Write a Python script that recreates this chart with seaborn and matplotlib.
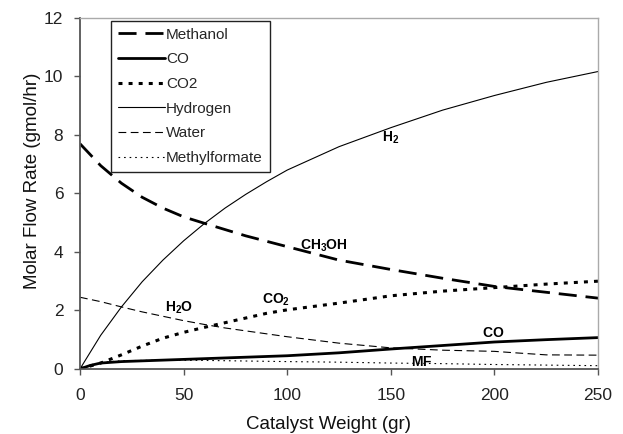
import matplotlib
matplotlib.use("Agg")
import matplotlib.pyplot as plt
import seaborn as sns
import pandas as pd

sns.set_theme(style="white")
plt.rcParams["font.family"] = ["Liberation Sans", "DejaVu Sans"]
plt.rcParams["mathtext.fontset"] = "custom"
plt.rcParams["mathtext.rm"] = "Liberation Sans"
plt.rcParams["mathtext.bf"] = "Liberation Sans:bold"

# Molar flow rates along the catalyst bed
methanol_w = [0, 10, 20, 30, 40, 50, 60, 80, 100, 125, 150, 175, 200, 225, 250]
methanol = [7.7, 6.95, 6.35, 5.87, 5.5, 5.2, 4.98, 4.55, 4.18, 3.72, 3.4, 3.1, 2.82, 2.62, 2.42]

co_w = [0, 5, 10, 20, 40, 60, 80, 100, 125, 150, 175, 200, 225, 250]
co = [0, 0.12, 0.2, 0.25, 0.3, 0.35, 0.4, 0.45, 0.55, 0.68, 0.8, 0.92, 1.0, 1.07]

co2_w = [0, 10, 20, 30, 40, 50, 60, 70, 80, 90, 100, 125, 150, 175, 200, 225, 250]
co2 = [0, 0.2, 0.48, 0.78, 1.05, 1.25, 1.42, 1.58, 1.74, 1.9, 2.02, 2.25, 2.5, 2.66, 2.78, 2.9, 3.0]

h2_w = [0, 10, 20, 30, 40, 50, 60, 70, 80, 90, 100, 125, 150, 175, 200, 225, 250]
h2 = [0, 1.15, 2.12, 2.98, 3.72, 4.38, 4.97, 5.5, 5.97, 6.4, 6.8, 7.6, 8.25, 8.85, 9.35, 9.8, 10.17]

water_w = [0, 10, 20, 30, 40, 50, 60, 70, 80, 100, 125, 150, 175, 200, 210, 225, 250]
water = [2.45, 2.3, 2.12, 1.95, 1.8, 1.65, 1.52, 1.4, 1.3, 1.1, 0.88, 0.72, 0.64, 0.6, 0.55, 0.48, 0.47]

mf_w = [0, 5, 10, 20, 40, 60, 80, 100, 125, 150, 175, 200, 225, 250]
mf = [0, 0.12, 0.22, 0.28, 0.3, 0.29, 0.27, 0.25, 0.23, 0.2, 0.18, 0.15, 0.13, 0.11]

series = [
    ("Methanol", methanol_w, methanol, 2.0, (0, (6.5, 3.2))),
    ("CO", co_w, co, 2.0, "-"),
    ("CO2", co2_w, co2, 2.2, (0, (1.3, 2.0))),
    ("Hydrogen", h2_w, h2, 0.8, "-"),
    ("Water", water_w, water, 0.8, (0, (7, 4))),
    ("Methylformate", mf_w, mf, 0.8, (0, (1.5, 3.5))),
]

# In-plot species labels
species_labels = [
    (r"$\mathbf{H_2}$", 149.7, 7.9),
    (r"$\mathbf{CH_3OH}$", 117.7, 4.2),
    (r"$\mathbf{CO_2}$", 94.5, 2.36),
    (r"$\mathbf{H_2O}$", 47.7, 2.08),
    (r"$\mathbf{CO}$", 199.6, 1.23),
    (r"$\mathbf{MF}$", 164.7, 0.24),
]

fig = plt.figure(figsize=(6.23, 4.34), dpi=100)
ax = fig.add_axes([0.1284, 0.150, 0.8316, 0.8085])

for name, w, v, lw, ls in series:
    df = pd.DataFrame({"w": w, "v": v})
    sns.lineplot(data=df, x="w", y="v", ax=ax, color="black", linewidth=lw,
                 linestyle=ls, label=name)

for txt, x, y in species_labels:
    ax.text(x, y, txt, ha="center", va="center", fontsize=10, color="black")

ax.set_xlim(0, 250)
ax.set_ylim(0, 12)
ax.set_xticks([0, 50, 100, 150, 200, 250])
ax.set_yticks([0, 2, 4, 6, 8, 10, 12])
ax.set_xlabel("Catalyst Weight (gr)", fontsize=13.5, color="#111111")
ax.set_ylabel("Molar Flow Rate (gmol/hr)", fontsize=13.5, color="#111111")
ax.xaxis.set_label_coords(0.48, -0.135)
ax.yaxis.set_label_coords(-0.075, 0.535)
ax.tick_params(axis="both", direction="out", length=4, width=1, colors="#555555",
               labelsize=12.5, labelcolor="#222222", bottom=True, left=True)
ax.tick_params(axis="x", pad=10)
ax.tick_params(axis="y", pad=8)

for side in ("left", "bottom"):
    ax.spines[side].set_color("#555555")
    ax.spines[side].set_linewidth(1.3)
for side in ("top", "right"):
    ax.spines[side].set_color("#aaaaaa")
    ax.spines[side].set_linewidth(1.0)

leg = ax.legend(loc="upper left", bbox_to_anchor=(0.06, 0.992), fontsize=11,
                frameon=True, fancybox=False, handlelength=3.1, handletextpad=0.05,
                labelspacing=0.7, borderpad=0.45, borderaxespad=0)
leg.get_frame().set_edgecolor("#222222")
leg.get_frame().set_linewidth(1.0)
leg.get_frame().set_alpha(1)

fig.savefig("out.png", dpi=100)
